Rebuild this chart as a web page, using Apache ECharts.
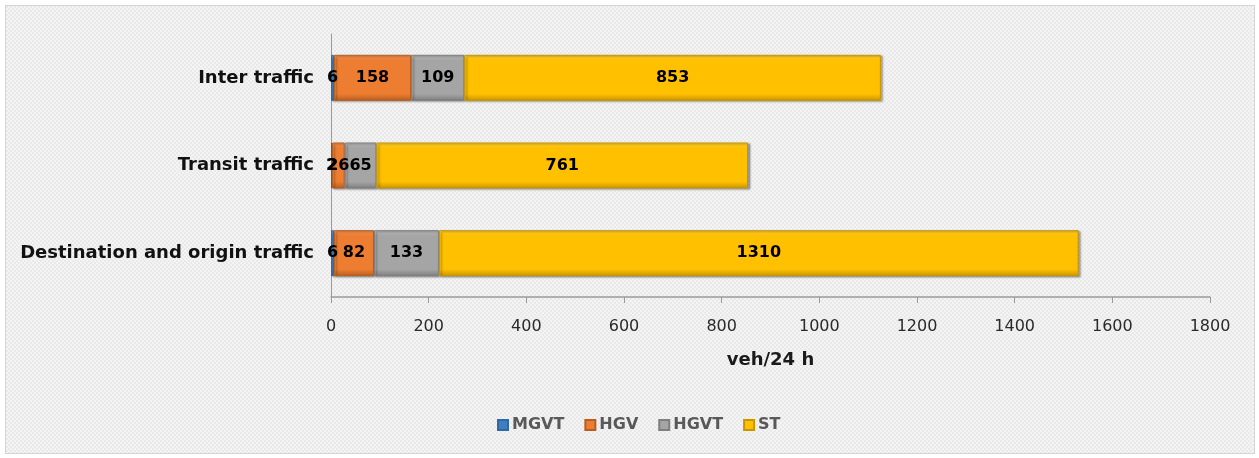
<!DOCTYPE html>
<html>
<head>
<meta charset="utf-8">
<script src="https://cdn.jsdelivr.net/npm/echarts@6/dist/echarts.min.js"></script>
<style>
  html, body { margin: 0; padding: 0; background: #ffffff; }
  #frame {
    position: absolute; left: 5px; top: 5px; width: 1248px; height: 447px;
    border: 1px solid #d4d4d4;
    background-color: #e9e9e9;
    background-image:
      linear-gradient(45deg, #f4f4f4 25%, transparent 25%, transparent 75%, #f4f4f4 75%),
      linear-gradient(45deg, #f4f4f4 25%, transparent 25%, transparent 75%, #f4f4f4 75%);
    background-size: 4px 4px;
    background-position: 0 0, 2px 2px;
  }
  #chart { position: absolute; left: 0; top: 0; width: 1259px; height: 458px; }
</style>
</head>
<body>
<div id="frame"></div>
<div id="chart"></div>
<script>
// Traffic volumes by traffic type (veh/24 h)
const categories = ['Destination and origin traffic', 'Transit traffic', 'Inter traffic'];
const seriesNames = ['MGVT', 'HGV', 'HGVT', 'ST'];
const mgvt = [6, 2, 6];
const hgv = [82, 26, 158];
const hgvt = [133, 65, 109];
const st = [1310, 761, 853];
const xTicks = [0, 200, 400, 600, 800, 1000, 1200, 1400, 1600, 1800];

const FONT = 'DejaVu Sans';
const seriesValues = [mgvt, hgv, hgvt, st];
const fills = [
  ['#6aa6e0', '#3f7fc0', '#2f6aa6'],
  ['#f5955a', '#ed7d31', '#b85e20'],
  ['#bdbdbd', '#a5a5a5', '#7f7f7f'],
  ['#ffd23a', '#ffc000', '#c99600']
];

function bevel(c) {
  return new echarts.graphic.LinearGradient(0, 0, 0, 1, [
    { offset: 0, color: c[0] },
    { offset: 0.12, color: c[1] },
    { offset: 0.85, color: c[1] },
    { offset: 1, color: c[2] }
  ]);
}

const chart = echarts.init(document.getElementById('chart'), null, { renderer: 'canvas' });

chart.setOption({
  backgroundColor: 'transparent',
  animation: false,
  textStyle: { fontFamily: FONT },
  grid: { left: 331, right: 49, top: 34, height: 263, containLabel: false },
  xAxis: {
    type: 'value',
    min: xTicks[0],
    max: xTicks[xTicks.length - 1],
    interval: 200,
    name: 'veh/24 h',
    nameLocation: 'middle',
    nameGap: 54,
    nameTextStyle: { fontFamily: FONT, fontSize: 18, fontWeight: 'bold', color: '#1a1a1a' },
    axisLine: { show: true, lineStyle: { color: '#9a9a9a', width: 1.5 } },
    axisTick: { show: true, length: 6, lineStyle: { color: '#9a9a9a' } },
    axisLabel: { fontFamily: FONT, fontSize: 16, color: '#2a2a2a', margin: 22,
                 formatter: v => String(v) },
    splitLine: { show: false }
  },
  yAxis: {
    type: 'category',
    data: categories,
    axisLine: { show: true, lineStyle: { color: '#9a9a9a', width: 1 } },
    axisTick: { show: false },
    axisLabel: { fontFamily: FONT, fontSize: 18, fontWeight: 'bold', color: '#111111', margin: 17 }
  },
  legend: {
    data: seriesNames,
    bottom: 20,
    left: 492,
    itemWidth: 10,
    itemHeight: 10,
    itemGap: 20,
    icon: 'rect',
    textStyle: { fontFamily: FONT, fontSize: 16, fontWeight: 'bold', color: '#595959', padding: [0, 0, 0, -1] }
  },
  series: seriesNames.map((name, i) => ({
    name: name,
    type: 'bar',
    stack: 'total',
    barWidth: 46,
    data: seriesValues[i],
    itemStyle: {
      color: bevel(fills[i]),
      borderColor: fills[i][2],
      borderWidth: 1,
      shadowColor: 'rgba(0,0,0,0.35)',
      shadowBlur: 2,
      shadowOffsetX: 2,
      shadowOffsetY: 1
    },
    label: {
      show: true,
      position: 'inside',
      fontFamily: FONT,
      fontSize: 16,
      fontWeight: 'bold',
      color: '#000000'
    }
  }))
});
</script>
</body>
</html>
